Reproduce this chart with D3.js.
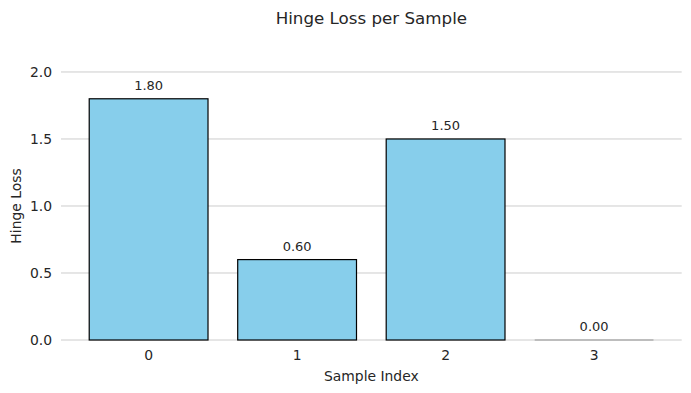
<!DOCTYPE html>
<html>
<head>
<meta charset="utf-8">
<script src="https://cdn.jsdelivr.net/npm/d3@7"></script>
<style>
  body { margin: 0; background: #fff; }
  text { font-family: "DejaVu Sans", sans-serif; fill: #262626; }
</style>
</head>
<body>
<svg id="chart" width="691" height="393"></svg>
<script>
var samples = ["0", "1", "2", "3"];
var losses = [1.80, 0.60, 1.50, 0.00];
var yTicks = [0.0, 0.5, 1.0, 1.5, 2.0];

var svg = d3.select("#chart");
// note: "top" clashes with window.top, so use plot* names
var plotLeft = 61, plotRight = 681.7, plotTop = 50, plotBottom = 340;

// bar positions like matplotlib: bars at integer centers, width 0.8, 5% margins
var x = d3.scaleLinear().domain([-0.59, 3.59]).range([plotLeft, plotRight]);
var y = d3.scaleLinear().domain([0, 2.164]).range([plotBottom, plotTop]);
var barW = 0.8;

// grid
svg.append("g").selectAll("line")
  .data(yTicks)
  .enter().append("line")
  .attr("x1", plotLeft).attr("x2", plotRight)
  .attr("y1", function (d) { return y(d); })
  .attr("y2", function (d) { return y(d); })
  .attr("stroke", "#cccccc")
  .attr("stroke-width", 1);

// y tick labels
svg.append("g").selectAll("text")
  .data(yTicks)
  .enter().append("text")
  .attr("x", plotLeft - 9)
  .attr("y", function (d) { return y(d); })
  .attr("dy", "0.35em")
  .attr("text-anchor", "end")
  .style("font-size", "13.9px")
  .text(function (d) { return d.toFixed(1); });

// bars
var bars = svg.append("g").selectAll("g")
  .data(losses)
  .enter().append("g");

bars.filter(function (d) { return d > 0; }).append("rect")
  .attr("x", function (d) { return x(losses.indexOf(d) - barW / 2); })
  .attr("y", function (d) { return y(d); })
  .attr("width", function () { return x(barW) - x(0); })
  .attr("height", function (d) { return y(0) - y(d); })
  .attr("fill", "#87ceeb")
  .attr("stroke", "#000")
  .attr("stroke-width", 1.2);

bars.filter(function (d) { return d === 0; }).append("line")
  .attr("x1", function (d) { return x(losses.indexOf(d) - barW / 2); })
  .attr("x2", function (d) { return x(losses.indexOf(d) + barW / 2); })
  .attr("y1", y(0)).attr("y2", y(0))
  .attr("stroke", "#bdbdbd")
  .attr("stroke-width", 2);

// value labels
bars.append("text")
  .attr("x", function (d, i) { return x(i); })
  .attr("y", function (d) { return y(d) - 9; })
  .attr("text-anchor", "middle")
  .style("font-size", "13px")
  .text(function (d) { return d.toFixed(2); });

// x tick labels
svg.append("g").selectAll("text")
  .data(samples)
  .enter().append("text")
  .attr("x", function (d, i) { return x(i); })
  .attr("y", plotBottom + 20)
  .attr("text-anchor", "middle")
  .style("font-size", "13.9px")
  .text(function (d) { return d; });

// axis labels and title
svg.append("text")
  .attr("x", (plotLeft + plotRight) / 2)
  .attr("y", 381)
  .attr("text-anchor", "middle")
  .style("font-size", "13.9px")
  .text("Sample Index");

svg.append("text")
  .attr("transform", "translate(21," + y(1.0) + ") rotate(-90)")
  .attr("text-anchor", "middle")
  .style("font-size", "13.9px")
  .text("Hinge Loss");

svg.append("text")
  .attr("x", (plotLeft + plotRight) / 2)
  .attr("y", 24)
  .attr("text-anchor", "middle")
  .style("font-size", "16.7px")
  .text("Hinge Loss per Sample");
</script>
</body>
</html>
